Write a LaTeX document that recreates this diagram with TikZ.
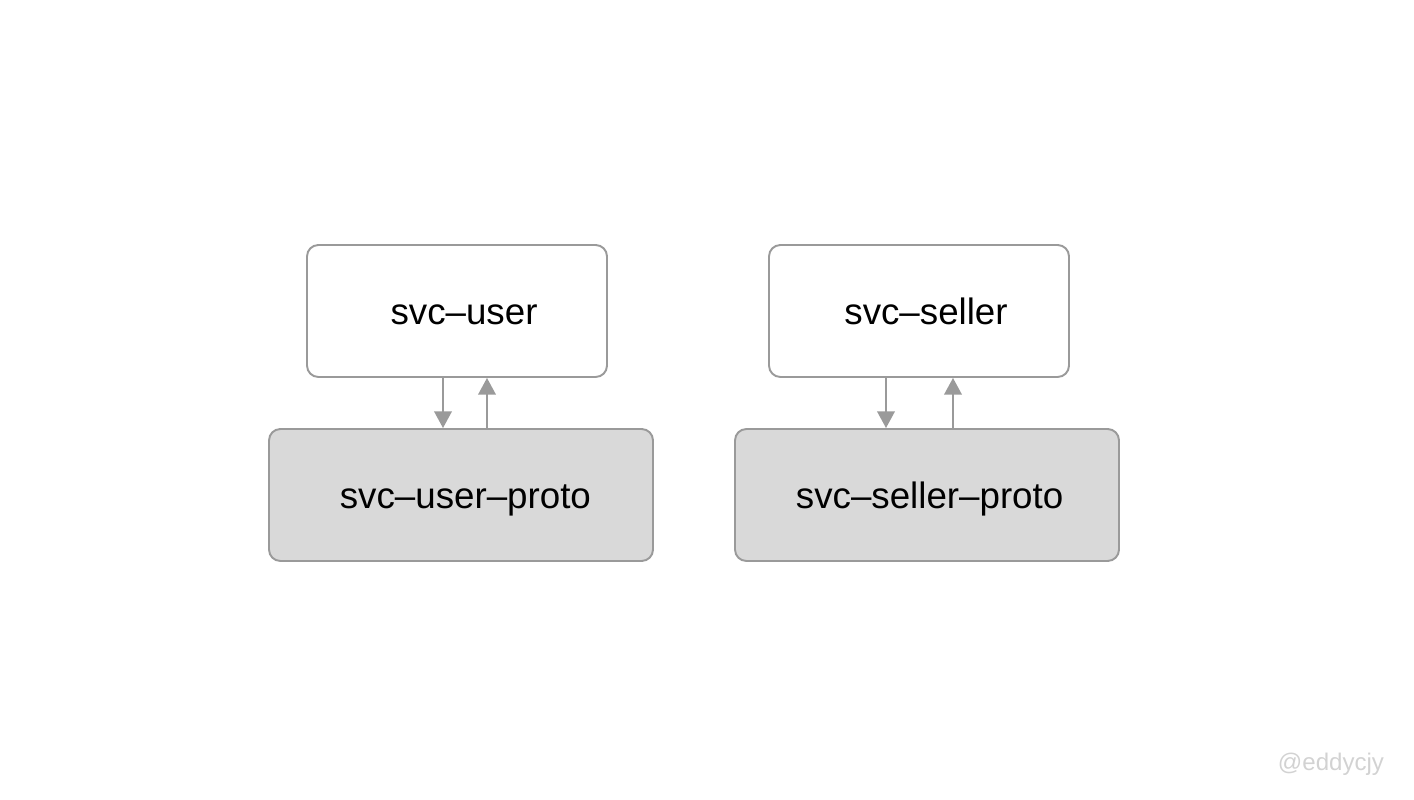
\documentclass[tikz,border=0pt]{standalone}
\usepackage{fontspec}
\setmainfont{Liberation Sans}
\usetikzlibrary{arrows.meta}
\begin{document}
\begin{tikzpicture}[x=0.02cm,y=-0.02cm,
  box/.style={draw=boxgray,line width=1.1pt,rounded corners=6.5pt,minimum width=300*0.02cm,minimum height=132*0.02cm,inner sep=0pt,text height=16.5pt,text depth=1.2pt,font=\fontsize{20.9}{24}\selectfont},
  protobox/.style={box,fill=protofill,minimum width=384*0.02cm},
  arr/.style={draw=boxgray,line width=1.1pt,-{Triangle[width=10pt,length=9.5pt]}},
  ]
\definecolor{boxgray}{HTML}{9A9A9A}
\definecolor{protofill}{HTML}{D9D9D9}
\definecolor{wm}{HTML}{D2D2D2}
\useasboundingbox (0,0) rectangle (1414,800);
\node[box] (u) at (457,311) {\hspace*{8pt}svc–user};
\node[protobox] (up) at (461,495) {\hspace*{5pt}svc–user–proto};
\node[box] (s) at (919,311) {\hspace*{8pt}svc–seller};
\node[protobox] (sp) at (927,495) {\hspace*{3pt}svc–seller–proto};
\draw[arr] (443,0 |- u.south) -- (443,0 |- up.north);
\draw[arr] (487,0 |- up.north) -- (487,0 |- u.south);
\draw[arr] (886,0 |- s.south) -- (886,0 |- sp.north);
\draw[arr] (953,0 |- sp.north) -- (953,0 |- s.south);
\node[text=wm,font=\fontsize{13.7}{16}\selectfont] (wmk) at (1331,764) {@eddycjy};
\end{tikzpicture}
\end{document}
